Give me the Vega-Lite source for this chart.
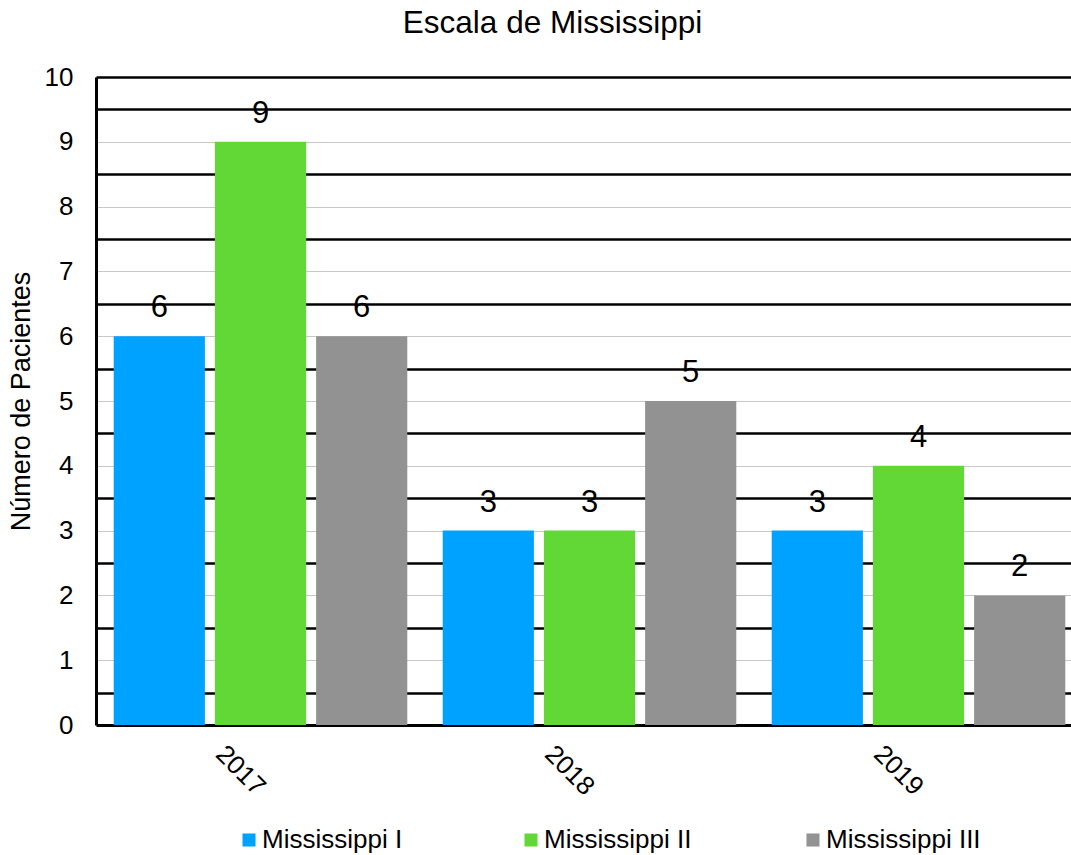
{
  "$schema": "https://vega.github.io/schema/vega-lite/v6.json",
  "width": 987,
  "height": 648,
  "autosize": {"type": "none"},
  "padding": {"left": 96, "top": 77, "right": -12, "bottom": 130},
  "config": {"font": "Liberation Sans", "view": {"stroke": null}},
  "title": {"text": "Escala de Mississippi", "fontSize": 31.5, "fontWeight": "normal", "color": "black", "offset": 25, "dx": -37},
  "data": {
    "values": [
      {"year": "2017", "series": "Mississippi I", "value": 6},
      {"year": "2017", "series": "Mississippi II", "value": 9},
      {"year": "2017", "series": "Mississippi III", "value": 6},
      {"year": "2018", "series": "Mississippi I", "value": 3},
      {"year": "2018", "series": "Mississippi II", "value": 3},
      {"year": "2018", "series": "Mississippi III", "value": 5},
      {"year": "2019", "series": "Mississippi I", "value": 3},
      {"year": "2019", "series": "Mississippi II", "value": 4},
      {"year": "2019", "series": "Mississippi III", "value": 2}
    ]
  },
  "encoding": {
    "x": {
      "field": "year", "type": "nominal",
      "scale": {"paddingInner": 0, "paddingOuter": 0},
      "axis": {
        "title": null, "domainColor": "black", "domainWidth": 3, "ticks": false,
        "labelAngle": 45, "labelFontSize": 26, "labelColor": "black",
        "labelAlign": "center", "labelBaseline": "middle", "labelPadding": 45, "labelOffset": -20
      }
    },
    "xOffset": {
      "field": "series", "type": "nominal",
      "scale": {"paddingInner": 0.099, "paddingOuter": 0.175}
    },
    "y": {"field": "value", "type": "quantitative", "scale": {"domain": [0, 10], "nice": false}}
  },
  "layer": [
    {
      "mark": {"type": "bar"},
      "encoding": {
        "y": {
          "field": "value", "type": "quantitative", "scale": {"domain": [0, 10], "nice": false},
          "axis": {
            "values": [0, 1, 2, 3, 4, 5, 6, 7, 8, 9, 10],
            "grid": true, "gridColor": "#c8c8c8", "gridWidth": 1,
            "domain": true, "domainColor": "black", "domainWidth": 3,
            "ticks": false, "labelFontSize": 26, "labelColor": "black", "labelPadding": 23,
            "title": "Número de Pacientes", "titleFontSize": 27, "titleFontWeight": "normal",
            "titleColor": "black", "titlePadding": 9
          }
        },
        "color": {
          "field": "series", "type": "nominal",
          "scale": {"domain": ["Mississippi I", "Mississippi II", "Mississippi III"], "range": ["#00A2FF", "#61D836", "#929292"]},
          "legend": {
            "orient": "none", "legendX": 140, "legendY": 750, "direction": "horizontal",
            "title": null, "symbolType": "square", "symbolSize": 170,
            "symbolStrokeWidth": 0, "labelFontSize": 26, "labelColor": "black", "labelOffset": 0,
            "gridAlign": "all", "columnPadding": 101
          }
        }
      }
    },
    {
      "mark": {"type": "text", "fontSize": 31, "baseline": "alphabetic", "dy": -19, "color": "black"},
      "encoding": {
        "y": {
          "field": "value", "type": "quantitative", "scale": {"domain": [0, 10], "nice": false},
          "axis": {
            "orient": "left",
            "values": [0.5, 1.5, 2.5, 3.5, 4.5, 5.5, 6.5, 7.5, 8.5, 9.5, 10],
            "grid": true, "gridColor": "black", "gridWidth": 2.5,
            "domain": false, "ticks": false, "labels": false, "title": null
          }
        },
        "text": {"field": "value", "type": "quantitative"}
      }
    }
  ],
  "resolve": {"scale": {"y": "shared"}, "axis": {"y": "independent"}}
}
